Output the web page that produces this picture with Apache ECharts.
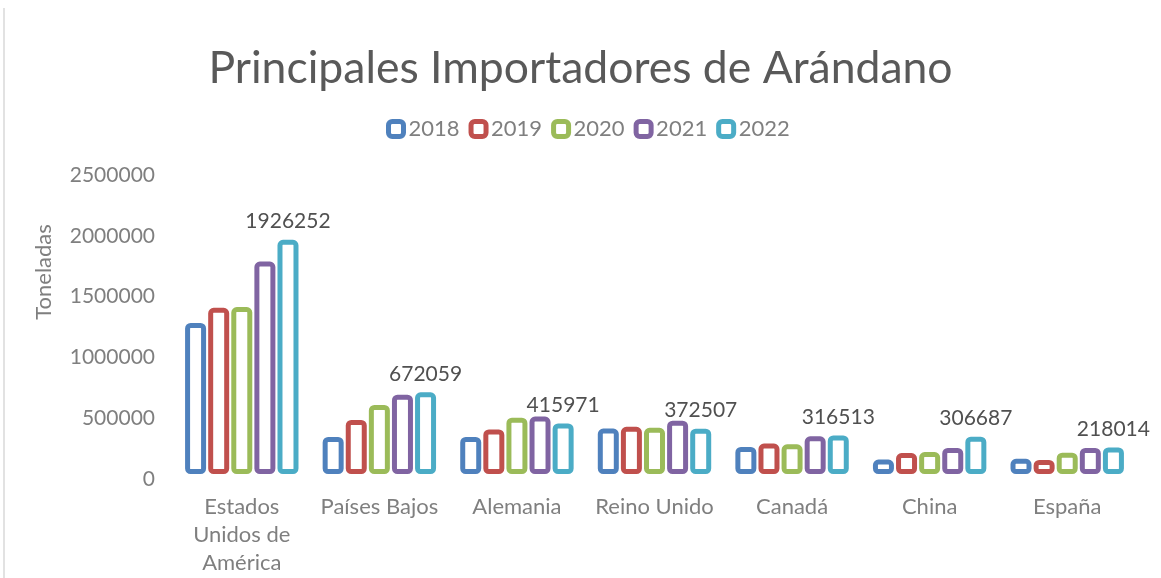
<!DOCTYPE html>
<html>
<head>
<meta charset="utf-8">
<script src="https://cdn.jsdelivr.net/npm/echarts@6/dist/echarts.min.js"></script>
<style>
  html, body { margin: 0; padding: 0; background: #fff; }
  #chart { width: 1161px; height: 578px; }
</style>
</head>
<body>
<div id="chart"></div>
<script>
// países (categorías del eje x)
const paises = ['Estados\nUnidos de\nAmérica', 'Países Bajos', 'Alemania', 'Reino Unido', 'Canadá', 'China', 'España'];
const anios = ['2018', '2019', '2020', '2021', '2022'];
// toneladas por año
const v2018 = [1242000, 305000, 305000, 374000, 222000, 119000, 125000];
const v2019 = [1367000, 444000, 366000, 388000, 250000, 172000, 116000];
const v2020 = [1373000, 568000, 463000, 380000, 244000, 180000, 175000];
const v2021 = [1747000, 652000, 472000, 438000, 310000, 214000, 214000];
const v2022 = [1926252, 672059, 415971, 372507, 316513, 306687, 218014];
const colores = ['#4f81bd', '#c0504d', '#9bbb59', '#8064a2', '#4bacc6'];

const fuente = 'Lato';
const chart = echarts.init(document.getElementById('chart'));

const valores = [v2018, v2019, v2020, v2021, v2022];
const series = anios.map(function (a, i) {
  const s = {
    name: a,
    type: 'bar',
    data: valores[i],
    barWidth: 21,
    barGap: '10%',
    itemStyle: {
      color: '#ffffff',
      borderColor: colores[i],
      borderWidth: 5,
      borderRadius: 3
    },
    emphasis: { disabled: true }
  };
  if (a === '2022') {
    s.label = {
      show: true,
      position: 'top',
      distance: 8,
      color: '#505050',
      fontFamily: fuente,
      fontSize: 21
    };
  }
  return s;
});

const option = {
  animation: false,
  color: colores,
  title: {
    text: 'Principales Importadores de Arándano',
    left: 'center',
    top: 41,
    textStyle: {
      color: '#595959',
      fontFamily: fuente,
      fontWeight: 'normal',
      fontSize: 44.5
    }
  },
  legend: {
    data: anios,
    top: 113,
    left: 381,
    icon: 'roundRect',
    itemWidth: 15,
    itemHeight: 15,
    itemGap: 9,
    itemStyle: { borderWidth: 5 },
    textStyle: {
      color: '#7f7f7f',
      fontFamily: fuente,
      fontSize: 22
    }
  },
  grid: {
    left: 173,
    right: 25,
    top: 170,
    bottom: 104
  },
  xAxis: {
    type: 'category',
    data: paises,
    axisLine: { show: false },
    axisTick: { show: false },
    axisLabel: {
      color: '#7f7f7f',
      fontFamily: fuente,
      fontSize: 22,
      lineHeight: 28,
      margin: 19,
      interval: 0
    }
  },
  yAxis: {
    type: 'value',
    min: 0,
    max: 2500000,
    interval: 500000,
    name: 'Toneladas',
    nameLocation: 'middle',
    nameGap: 118,
    nameTextStyle: {
      color: '#7f7f7f',
      fontFamily: fuente,
      fontSize: 22,
      padding: [0, 0, 0, 100]
    },
    splitLine: { show: false },
    axisLine: { show: false },
    axisTick: { show: false },
    axisLabel: {
      color: '#7f7f7f',
      fontFamily: fuente,
      fontSize: 21,
      margin: 18,
      verticalAlign: 'top',
      lineHeight: 10,
      formatter: function (v) { return String(v); }
    }
  },
  graphic: [{
    type: 'line',
    shape: { x1: 4, y1: 8, x2: 4, y2: 578 },
    style: { stroke: '#d9d9d9', lineWidth: 1.5 },
    silent: true
  }],
  series: series
};

chart.setOption(option);
</script>
</body>
</html>
